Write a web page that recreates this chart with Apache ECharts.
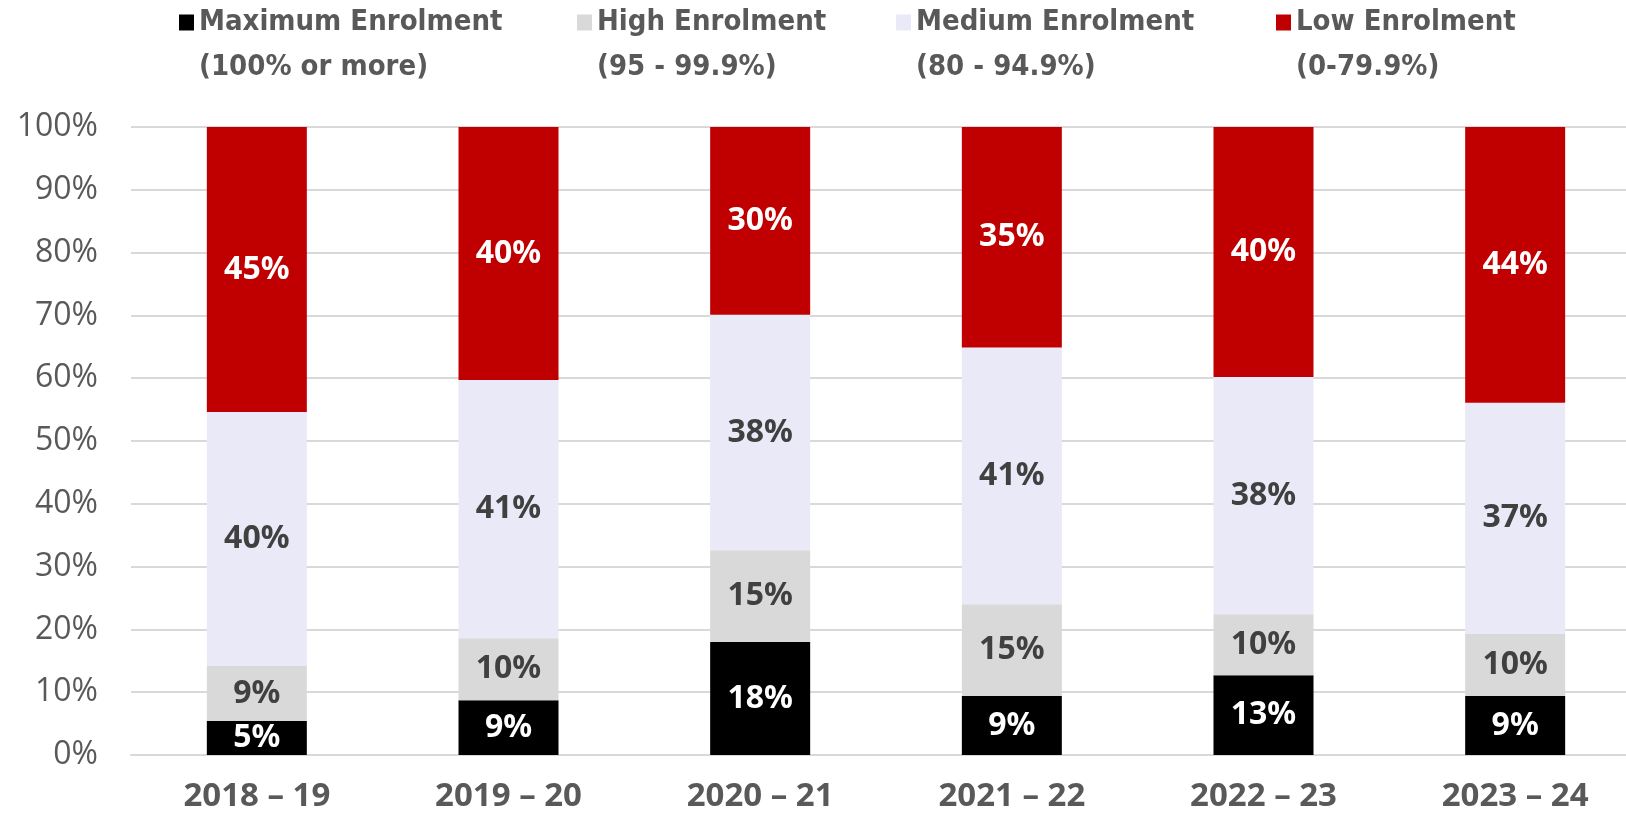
<!DOCTYPE html>
<html>
<head>
<meta charset="utf-8">
<script src="https://cdn.jsdelivr.net/npm/echarts@6/dist/echarts.min.js"></script>
<style>
    html, body { margin: 0; padding: 0; background: #ffffff; }
    #chartId { width: 1626px; height: 813px; }
</style>
</head>
<body>
<div id="chartId"></div>
<script>
// categories
const years = ['2018 – 19', '2019 – 20', '2020 – 21', '2021 – 22', '2022 – 23', '2023 – 24'];

// share of schools per enrolment band (%)
const maximumEnrol = [5.4, 8.7, 18.0, 9.4, 12.7, 9.4];
const highEnrol    = [8.8, 9.9, 14.6, 14.6, 9.7, 9.9];
const mediumEnrol  = [40.4, 41.1, 37.5, 40.9, 37.8, 36.8];
const lowEnrol     = [45.4, 40.3, 29.9, 35.1, 39.8, 43.9];

const seriesNames = [
    'Maximum Enrolment\n(100% or more)',
    'High Enrolment\n(95 - 99.9%)',
    'Medium Enrolment\n(80 - 94.9%)',
    'Low Enrolment\n(0-79.9%)'
];

const colors = ['#000000', '#d9d9d9', '#e9e9f7', '#c00000'];
const labelColors = ['#ffffff', '#404040', '#404040', '#ffffff'];
const legendLeft = [179, 577, 896, 1276];   // x of each legend marker

var chart = echarts.init(document.getElementById('chartId'));

let seriesArr = [];
let dataArr = [maximumEnrol, highEnrol, mediumEnrol, lowEnrol];
for (let i = 0; i < dataArr.length; i++) {
    seriesArr.push({
        name: seriesNames[i],
        type: 'bar',
        stack: 'total',
        barWidth: 100,
        data: dataArr[i],
        itemStyle: { color: colors[i] },
        label: {
            show: true,
            position: 'inside',
            formatter: p => Math.round(p.value) + '%',
            color: labelColors[i],
            fontFamily: 'Noto Sans',
            fontWeight: 'bold',
            fontSize: 32
        }
    });
}

// one legend per item so the markers sit where the original has them.
// a blank first line keeps the marker level with the name line
let legends = seriesNames.map((name, i) => ({
    data: [name],
    left: legendLeft[i],
    top: -45,
    padding: 0,
    itemGap: 0,
    itemWidth: 15,
    itemHeight: 16,
    icon: 'rect',
    selectedMode: false,
    formatter: n => ' \n' + n,
    textStyle: {
        fontFamily: 'DejaVu Sans Condensed',
        fontWeight: 'bold',
        fontSize: 29,
        color: '#595959',
        lineHeight: 45
    }
}));

var option = {
    animation: false,
    legend: legends,
    grid: {
        left: 131,
        right: -15,
        top: 127,
        bottom: 58,
        outerBoundsMode: 'none'   // plot runs a little past the right edge, as in the original
    },
    xAxis: {
        type: 'category',
        data: years,
        axisTick: { show: false },
        axisLine: { lineStyle: { color: '#d9d9d9', width: 2 } },
        axisLabel: {
            margin: 25,
            fontFamily: 'Noto Sans',
            fontWeight: 'bold',
            fontSize: 33,
            color: '#595959'
        }
    },
    yAxis: {
        type: 'value',
        min: 0,
        max: 100,
        interval: 10,
        axisLine: { show: false },
        axisTick: { show: false },
        splitLine: { lineStyle: { color: '#d9d9d9', width: 2 } },
        axisLabel: {
            formatter: '{value}%',
            margin: 33,
            fontFamily: 'Open Sans',
            fontSize: 32,
            color: '#595959'
        }
    },
    series: seriesArr
};

chart.setOption(option);
</script>
</body>
</html>
